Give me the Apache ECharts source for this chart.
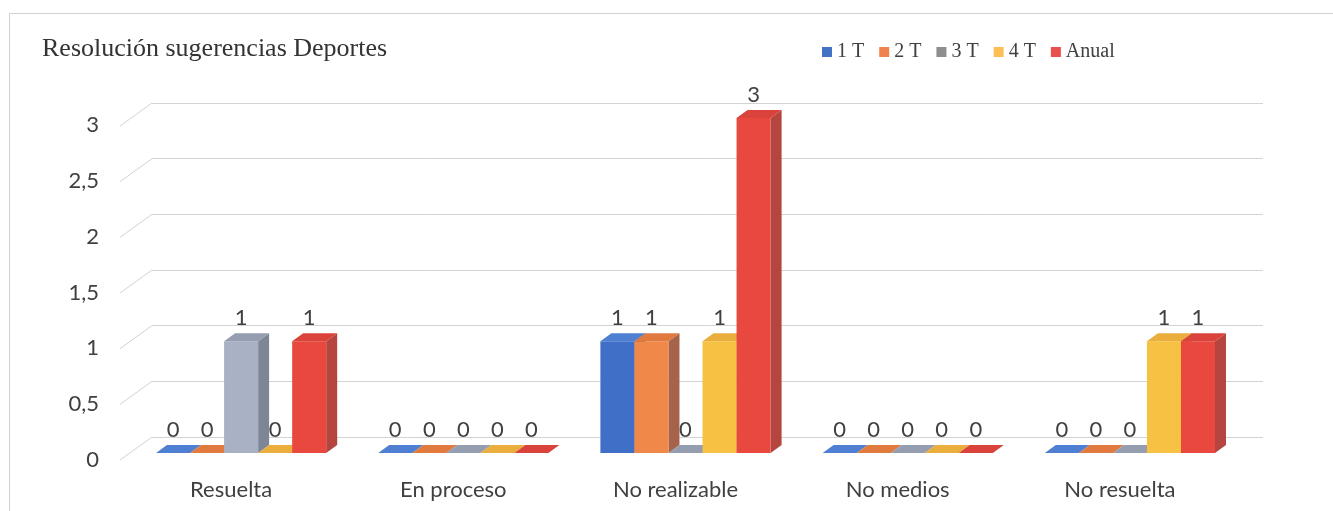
<!DOCTYPE html>
<html>
<head>
<meta charset="utf-8">
<script src="https://cdn.jsdelivr.net/npm/echarts@6/dist/echarts.min.js"></script>
<style>
  html, body { margin: 0; padding: 0; background: #ffffff; }
  #chart { width: 1333px; height: 511px; }
</style>
</head>
<body>
<div id="chart"></div>
<script>
// Categories and values per quarter
const categories = ['Resuelta', 'En proceso', 'No realizable', 'No medios', 'No resuelta'];
const seriesNames = ['1 T', '2 T', '3 T', '4 T', 'Anual'];
const t1 = [0, 0, 1, 0, 0];
const t2 = [0, 0, 1, 0, 0];
const t3 = [1, 0, 0, 0, 0];
const t4 = [0, 0, 1, 0, 1];
const anual = [1, 0, 3, 0, 1];
const yTicks = [0, 0.5, 1, 1.5, 2, 2.5, 3];

const seriesValues = [t1, t2, t3, t4, anual];

// Face colours for each series: front, side, top, legend swatch
const palette = [
  { front: '#3f6fc7', side: '#2f5392', top: '#4f7fd2', key: '#4472c4' },
  { front: '#f0884a', side: '#a5634a', top: '#e17a3e', key: '#f0834d' },
  { front: '#a9b1c5', side: '#7d8597', top: '#959db0', key: '#8e8e8e' },
  { front: '#f7c244', side: '#c89b33', top: '#eaae3c', key: '#fbbf55' },
  { front: '#e9483f', side: '#b4463f', top: '#d9433b', key: '#e8504d' }
];

const GROUP_FRAC = 0.766;   // share of a category band taken by the bar group
const DEPTH_X = 11, DEPTH_Y = -8;   // bar depth
const WALL_X = 32, WALL_Y = 23;     // left wall depth (back -> front)

const sansFont = 'Lato, "Open Sans", sans-serif';
const serifFont = '"Liberation Serif", "DejaVu Serif", serif';

function barRenderer(sIdx) {
  return function (params, api) {
    const cat = api.value(0);
    const val = api.value(1);
    const base = api.coord([cat, 0]);
    const top = api.coord([cat, val]);
    const band = api.size([1, 0])[0];
    const bw = band * GROUP_FRAC / seriesNames.length;
    const x0 = base[0] - bw * seriesNames.length / 2 + sIdx * bw;
    const x1 = x0 + bw;
    const yb = base[1];
    const yt = top[1];
    const c = palette[sIdx];
    const children = [];
    if (yb - yt > 0.5) {
      children.push({
        type: 'polygon',
        shape: { points: [[x1, yb], [x1 + DEPTH_X, yb + DEPTH_Y], [x1 + DEPTH_X, yt + DEPTH_Y], [x1, yt]] },
        style: { fill: c.side }
      });
      children.push({
        type: 'rect',
        shape: { x: x0, y: yt, width: bw, height: yb - yt },
        style: { fill: c.front }
      });
    }
    children.push({
      type: 'polygon',
      shape: { points: [[x0, yt], [x0 + DEPTH_X, yt + DEPTH_Y], [x1 + DEPTH_X, yt + DEPTH_Y], [x1, yt]] },
      style: { fill: c.top }
    });
    children.push({
      type: 'text',
      style: {
        text: String(val),
        x: (x0 + x1) / 2,
        y: yt - 12,
        align: 'center',
        verticalAlign: 'bottom',
        fontFamily: sansFont,
        fontSize: 22,
        fill: '#404040'
      }
    });
    return { type: 'group', children: children };
  };
}

const barSeries = seriesNames.map(function (name, i) {
  return {
    type: 'custom',
    name: name,
    xAxisIndex: 2,
    yAxisIndex: 2,
    itemStyle: { color: palette[i].front },
    renderItem: barRenderer(i),
    data: seriesValues[i].map(function (v, k) { return [k, v]; }),
    z: 10 + i
  };
});

// Gridline segments on the left wall, from back wall to front edge
const wallSeries = {
  type: 'custom',
  xAxisIndex: 0,
  yAxisIndex: 0,
  silent: true,
  renderItem: function (params, api) {
    const p = api.coord([0, api.value(0)]);
    return {
      type: 'line',
      shape: { x1: p[0], y1: p[1], x2: p[0] - WALL_X, y2: p[1] + WALL_Y },
      style: { stroke: '#d3d3d3', lineWidth: 1 }
    };
  },
  data: yTicks.map(function (v) { return [v]; }),
  z: 1
};

const chart = echarts.init(document.getElementById('chart'), null, { renderer: 'canvas' });

chart.setOption({
  backgroundColor: '#ffffff',
  animation: false,
  title: {
    text: 'Resolución sugerencias Deportes',
    left: 37,
    top: 31,
    textStyle: { fontFamily: serifFont, fontSize: 26, fontWeight: 'normal', color: '#333333' }
  },
  legend: {
    data: seriesNames.map(function (n, i) {
      return { name: n, itemStyle: { color: palette[i].key } };
    }),
    left: 817,
    top: 37,
    icon: 'rect',
    itemWidth: 10,
    itemHeight: 10,
    itemGap: 15,
    textStyle: { fontFamily: serifFont, fontSize: 20, color: '#404040' }
  },
  graphic: [{
    type: 'rect',
    shape: { x: 9.5, y: 13.5, width: 1400, height: 600 },
    style: { fill: 'none', stroke: '#d0d0d0', lineWidth: 1 },
    silent: true
  }],
  grid: [
    { left: 152, right: 70, top: 103, bottom: 74 },   // back wall
    { left: 120, right: 102, top: 125, bottom: 51 },  // front edge
    { left: 130, right: 92, top: 118, bottom: 58 }    // bar plane
  ],
  xAxis: [
    { gridIndex: 0, type: 'value', min: 0, max: 1, show: false },
    {
      gridIndex: 1, type: 'category', data: categories,
      axisLine: { show: false }, axisTick: { show: false }, splitLine: { show: false },
      axisLabel: { margin: 19, fontFamily: sansFont, fontSize: 22, color: '#404040' }
    },
    { gridIndex: 2, type: 'category', data: categories, show: false }
  ],
  yAxis: [
    {
      gridIndex: 0, type: 'value', min: 0, max: 3, interval: 0.5,
      axisLabel: { show: false }, axisLine: { show: false }, axisTick: { show: false },
      splitLine: { show: true, lineStyle: { color: '#d3d3d3', width: 1 } }
    },
    {
      gridIndex: 1, type: 'value', min: 0, max: 3, interval: 0.5,
      axisLine: { show: false }, axisTick: { show: false }, splitLine: { show: false },
      axisLabel: {
        margin: 21, fontFamily: sansFont, fontSize: 22, color: '#404040',
        formatter: function (v) { return String(v).replace('.', ','); }
      }
    },
    { gridIndex: 2, type: 'value', min: 0, max: 3, interval: 0.5, show: false }
  ],
  series: [wallSeries].concat(barSeries)
});
</script>
</body>
</html>
